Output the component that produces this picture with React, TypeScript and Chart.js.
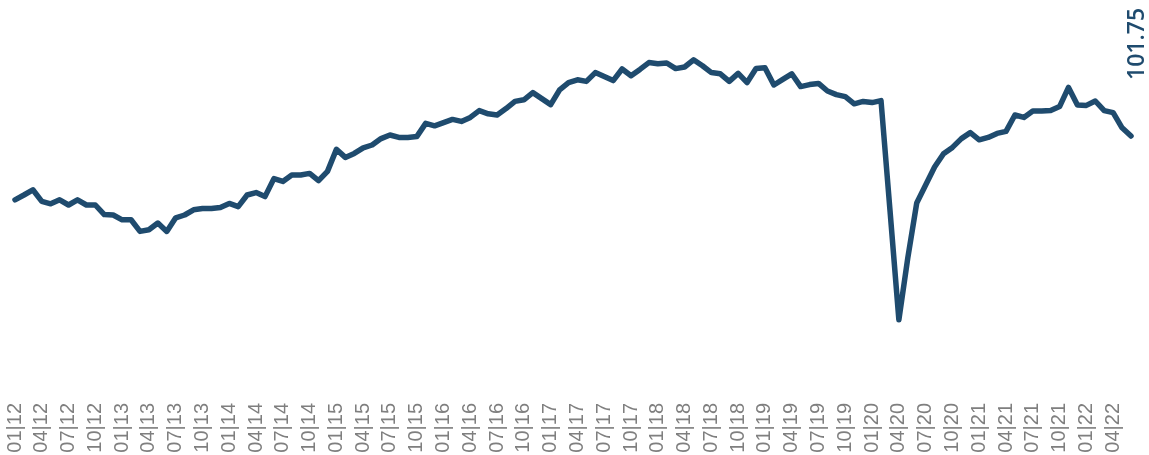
import React, { useEffect, useRef } from "react";
import { Chart, registerables } from "chart.js";

Chart.register(...registerables);

// Monthly categories 01|12 … 06|22
const years = ["12", "13", "14", "15", "16", "17", "18", "19", "20", "21", "22"];
const months = ["01", "02", "03", "04", "05", "06", "07", "08", "09", "10", "11", "12"];
const categories: string[] = [];
years.forEach((y) => months.forEach((m) => categories.push(`${m}|${y}`)));
const labels = categories.slice(0, 126);

// Tick labels shown on the axis (quarterly)
const tickLabels = [
  "01|12", "04|12", "07|12", "10|12", "01|13", "04|13", "07|13", "10|13",
  "01|14", "04|14", "07|14", "10|14", "01|15", "04|15", "07|15", "10|15",
  "01|16", "04|16", "07|16", "10|16", "01|17", "04|17", "07|17", "10|17",
  "01|18", "04|18", "07|18", "10|18", "01|19", "04|19", "07|19", "10|19",
  "01|20", "04|20", "07|20", "10|20", "01|21", "04|21", "07|21", "10|21",
  "01|22", "04|22",
];

// Index values
const values = [
  85.8, 87.0, 88.3, 85.4, 84.8, 85.8, 84.5, 85.8, 84.5, 84.5, 82.1, 82.0,
  80.8, 80.8, 77.9, 78.3, 80.0, 77.9, 81.3, 82.0, 83.3, 83.6, 83.6, 83.9,
  84.9, 84.1, 87.0, 87.6, 86.6, 91.1, 90.4, 92.0, 92.0, 92.4, 90.6, 92.9,
  98.4, 96.4, 97.4, 98.8, 99.5, 101.1, 102.0, 101.4, 101.4, 101.6, 104.9, 104.3,
  105.1, 105.9, 105.4, 106.4, 108.1, 107.3, 107.0, 108.6, 110.4, 110.8, 112.6, 111.1,
  109.6, 113.3, 115.1, 115.8, 115.4, 117.6, 116.6, 115.6, 118.5, 116.8, 118.4, 120.1,
  119.8, 120.0, 118.6, 119.0, 120.8, 119.3, 117.6, 117.3, 115.4, 117.4, 115.1, 118.6,
  118.8, 114.5, 115.9, 117.3, 114.1, 114.6, 114.9, 113.0, 112.1, 111.6, 109.8, 110.4,
  110.1, 110.6, 83.3, 55.8, 71.3, 85.0, 89.5, 94.0, 97.3, 98.9, 101.1, 102.6,
  100.8, 101.4, 102.4, 102.9, 107.0, 106.4, 108.0, 108.0, 108.1, 109.1, 113.9, 109.5,
  109.4, 110.5, 108.1, 107.6, 103.8, 101.75,
];

const lastLabel = "101.75";
const lineColor = "#1f4b6e";

const lastValuePlugin = {
  id: "lastValue",
  afterDatasetsDraw(chart: any) {
    const meta = chart.getDatasetMeta(0);
    const pt = meta.data[meta.data.length - 1];
    if (!pt) return;
    const ctx = chart.ctx;
    ctx.save();
    ctx.translate(pt.x + 6, pt.y - 56);
    ctx.rotate(-Math.PI / 2);
    ctx.font = "600 23px 'Open Sans'";
    ctx.fillStyle = lineColor;
    ctx.textAlign = "left";
    ctx.textBaseline = "middle";
    ctx.fillText(lastLabel, 0, 0);
    ctx.restore();
  },
};

export default function App() {
  const ref = useRef<HTMLCanvasElement>(null);
  useEffect(() => {
    if (!ref.current) return;
    const chart = new Chart(ref.current, {
      type: "line",
      data: {
        labels,
        datasets: [
          {
            data: values,
            borderColor: lineColor,
            borderWidth: 5.5,
            pointRadius: 0,
            tension: 0,
            borderJoinStyle: "round",
            borderCapStyle: "round",
            fill: false,
            clip: false as any,
          },
        ],
      },
      options: {
        animation: false,
        responsive: false,
        layout: { padding: { left: 15, right: 18, top: 0, bottom: 0 } },
        plugins: { legend: { display: false }, tooltip: { enabled: false } },
        scales: {
          x: {
            grid: { display: false, drawTicks: false },
            border: { display: false },
            afterFit: (scale: any) => {
              scale.height = 65;
              scale.paddingLeft = 0;
              scale.paddingRight = 0;
            },
            ticks: {
              autoSkip: false,
              minRotation: 90,
              maxRotation: 90,
              padding: 13,
              color: "#7f7f7f",
              font: { family: "'Liberation Sans', Arial, sans-serif", size: 20 },
              callback: (_v: any, i: number) =>
                tickLabels.includes(labels[i]) ? labels[i] : "",
            },
          },
          y: { display: false, min: 38.25, max: 135.75 },
        },
      },
      plugins: [lastValuePlugin],
    });
    return () => chart.destroy();
  }, []);
  return (
    <div style={{ position: "absolute", left: 0, top: 0, width: 1149, height: 455, overflow: "hidden", background: "#fff" }}>
      <canvas ref={ref} width={1149} height={455} style={{ display: "block" }} />
    </div>
  );
}
